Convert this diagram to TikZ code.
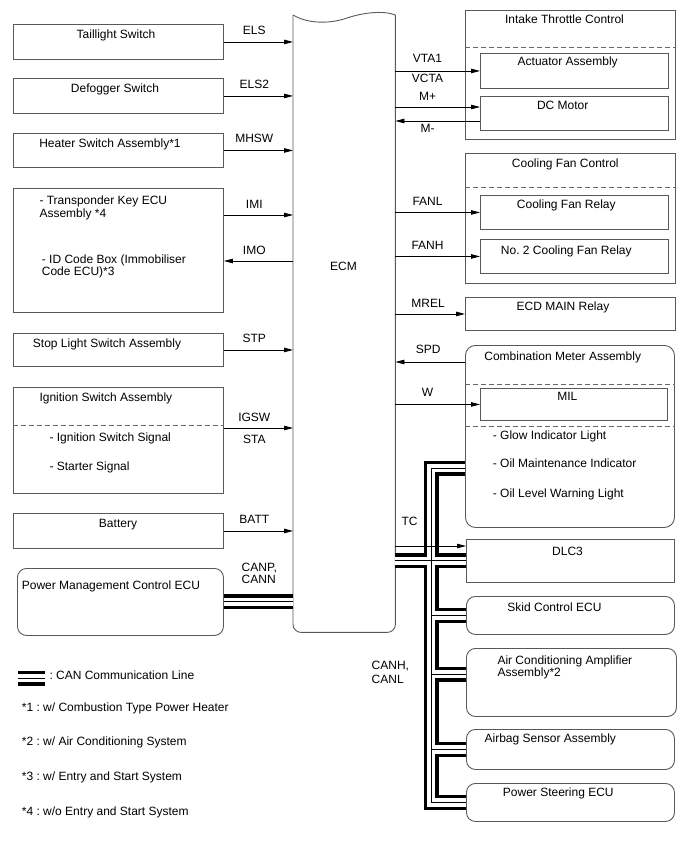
\documentclass[tikz,border=0pt]{standalone}
\usepackage{fontspec}
\setmainfont{Liberation Sans}
\usetikzlibrary{arrows.meta,calc}
\frenchspacing

\begin{document}
\begin{tikzpicture}[x=1pt,y=-1pt,
  font=\fontsize{12}{14}\selectfont,
  box/.style={draw=black!65,line width=.9pt,anchor=north west,inner sep=0,minimum width=210pt},
  sub/.style={box,minimum width=188pt},
  ecu/.style={box,rounded corners=9pt,minimum width=208pt},
  outline/.style={draw=black!65,line width=.9pt},
  sep/.style={draw=black!60,line width=.8pt,dash pattern=on 5pt off 3pt},
  txt/.style={anchor=base,inner sep=0},
  ltxt/.style={anchor=base west,inner sep=0},
  para/.style={anchor=north west,inner sep=0,align=left},
  sig/.style={-{Triangle[length=9pt,width=4.5pt]},line width=.8pt},
  lbl/.style={anchor=base,inner sep=0},
  canA/.style={line width=15pt},
  canB/.style={line width=8.5pt,white},
  canC/.style={line width=1pt}]
\useasboundingbox (0,0) rectangle (688,852);

% ECM body with the torn top edge
\node[inner sep=0,anchor=north west,minimum width=102pt,minimum height=617pt] (ecm) at (293,15) {};
\coordinate (wave) at ($(ecm.north west)+(54,3)$);
\draw[outline,rounded corners=8pt] (ecm.north east) -- (ecm.south east) -- (ecm.south west) -- (ecm.north west);
\draw[outline] (ecm.north west) .. controls +(15,9) and +(-17,6) .. (wave)
  .. controls +(15,-5) and +(-13,-5) .. (ecm.north east);
\node[txt] (ecm-t) at (343.5,270) {ECM};

% simple inputs on the left
\foreach \nm/\ty/\bh/\tx/\title/\sg in {tail/24/35/103/Taillight Switch/ELS,
    defog/78/35/102/Defogger Switch/ELS2,
    heat/133/34/97/Heater Switch Assembly*1/MHSW,
    stop/333/33/94/Stop Light Switch Assembly/STP,
    batt/513/35/105/Battery/BATT}{
  \node[box,minimum height=\bh pt] (\nm) at (13,\ty) {};
  \node[txt] (\nm-t) at ($(\nm.north west)+(\tx,14.5)$) {\title};
  \draw[sig] (\nm.east) -- (\nm.east -| ecm.west) node[lbl,pos=.44,yshift=7.5pt] (\nm-s) {\sg};
}

% immobiliser
\node[box,minimum height=124pt] (trans) at (13,188) {};
\node[para] (trans-a) at (39.3,195.6) {- Transponder Key ECU\\[-1pt]Assembly *4};
\node[para] (trans-b) at (41.7,254.3) {- ID Code Box (Immobiliser\\[-2pt]Code ECU)*3};
\coordinate (imi) at ($(trans.north east)+(0,27)$);
\coordinate (imo) at ($(trans.north east)+(0,73)$);
\draw[sig] (imi) -- (imi -| ecm.west) node[lbl,pos=.44,yshift=6.7pt] (imi-s) {IMI};
\draw[sig] (imo -| ecm.west) -- (imo) node[lbl,pos=.56,yshift=7pt] (imo-s) {IMO};

% ignition switch
\node[box,minimum height=106pt] (ign) at (13,387) {};
\draw[sep] ($(ign.north west)+(0,38)$) -- ($(ign.north east)+(0,38)$);
\node[ltxt] (ign-t) at (39.3,401) {Ignition Switch Assembly};
\node[ltxt] (ign-a) at (49.3,441) {- Ignition Switch Signal};
\node[ltxt] (ign-b) at (49.3,470.7) {- Starter Signal};
\coordinate (igsw) at ($(ign.north east)+(0,41)$);
\draw[sig] (igsw) -- (igsw -| ecm.west) node[lbl,pos=.44,yshift=6.7pt] (igsw-s) {IGSW}
  node[lbl,pos=.44,yshift=-15pt] (sta-s) {STA};

\node[ecu,minimum width=206pt,minimum height=67pt] (pmc) at (17,568) {};
\node[ltxt] (pmc-t) at (21.7,589.3) {Power Management Control ECU};
\node[para,font=\fontsize{12}{12}\selectfont] (canpn) at (241.5,563) {CANP,\\CANN};

% throttle and fan groups
\node[box,minimum height=129pt] (itc) at (465,10) {};
\draw[sep] ($(itc.north west)+(0,37)$) -- ($(itc.north east)+(0,37)$);
\node[txt] (itc-t) at (564.5,23.3) {Intake Throttle Control};
\node[sub,minimum height=35pt] (act) at (480,53) {};
\node[txt] (act-t) at (567.7,65.7) {Actuator Assembly};
\node[sub,minimum height=34pt] (dcm) at (480,96) {};
\node[txt] (dcm-t) at (562.7,109) {DC Motor};
\coordinate (mplus) at ($(dcm.north west)+(0,11)$);
\coordinate (mminus) at ($(dcm.north west)+(0,25)$);
\draw[sig] (ecm.east |- act.west) -- (act.west) node[lbl,pos=.38,yshift=8.8pt] (vta-s) {VTA1}
  node[lbl,pos=.38,yshift=-12pt] (vcta-s) {VCTA};
\draw[sig] (ecm.east |- mplus) -- (mplus) node[lbl,pos=.38,yshift=7pt] (mp-s) {M+};
\draw[sig] (mminus) -- (ecm.east |- mminus) node[lbl,pos=.62,yshift=-11.7pt] (mm-s) {M-};

\node[box,minimum height=130pt] (cfc) at (465,153) {};
\draw[sep] ($(cfc.north west)+(0,34)$) -- ($(cfc.north east)+(0,34)$);
\node[txt] (cfc-t) at (565.3,167.7) {Cooling Fan Control};
\node[sub,minimum height=34pt] (cfr) at (480,195) {};
\node[txt] (cfr-t) at (566.3,208.3) {Cooling Fan Relay};
\node[sub,minimum height=34pt] (cfr2) at (480,239) {};
\node[txt] (cfr2-t) at (566.3,254) {No. 2 Cooling Fan Relay};
\draw[sig] (ecm.east |- cfr.west) -- (cfr.west) node[lbl,pos=.38,yshift=7pt] (fanl-s) {FANL};
\draw[sig] (ecm.east |- cfr2.west) -- (cfr2.west) node[lbl,pos=.38,yshift=7pt] (fanh-s) {FANH};

\node[box,minimum height=33pt] (ecd) at (465,297) {};
\node[txt] (ecd-t) at (563,310) {ECD MAIN Relay};
\draw[sig] (ecm.east |- ecd.west) -- (ecd.west) node[lbl,pos=.47,yshift=6.5pt] (mrel-s) {MREL};

% combination meter
\node[box,rounded corners=10pt,minimum width=209pt,minimum height=182pt] (cmb) at (465,345) {};
\draw[sep] ($(cmb.north west)+(0,39)$) -- ($(cmb.north east)+(0,39)$);
\draw[sep] ($(cmb.north west)+(0,81)$) -- ($(cmb.north east)+(0,81)$);
\node[txt] (cmb-t) at (562.7,360.5) {Combination Meter Assembly};
\node[sub,minimum width=187pt,minimum height=32pt] (mil) at (480,388) {};
\node[txt] (mil-t) at (567.3,400.5) {MIL};
\node[ltxt] (cmb-a) at (492.7,439.3) {- Glow Indicator Light};
\node[ltxt] (cmb-b) at (492.7,467.7) {- Oil Maintenance Indicator};
\node[ltxt] (cmb-c) at (492.7,497.3) {- Oil Level Warning Light};
\coordinate (spd) at ($(cmb.north west)+(0,17)$);
\draw[sig] (spd) -- (ecm.east |- spd) node[lbl,pos=.53,yshift=8.5pt] (spd-s) {SPD};
\draw[sig] (ecm.east |- mil.west) -- (mil.west) node[lbl,pos=.38,yshift=8pt] (w-s) {W};

% CAN nodes on the right
\node[box,minimum width=208pt,minimum height=43pt] (dlc) at (466,539) {};
\node[txt] (dlc-t) at (567.5,555) {DLC3};
\node[ecu,minimum height=38pt] (skid) at (466,596) {};
\node[txt] (skid-t) at (554.5,611.7) {Skid Control ECU};
\node[ecu,minimum width=210pt,minimum height=68pt] (aca) at (466,648) {};
\node[para,font=\fontsize{12}{12.5}\selectfont] (aca-t) at (497.3,655.3) {Air Conditioning Amplifier\\Assembly*2};
\node[ecu,minimum height=40pt] (abg) at (466,729) {};
\node[txt] (abg-t) at (550.3,742.3) {Airbag Sensor Assembly};
\node[ecu,minimum height=38pt] (pst) at (466,783) {};
\node[txt] (pst-t) at (558.3,796.7) {Power Steering ECU};
\node[para] (canhl) at (371.5,661) {CANH,\\CANL};

% CAN bus: thick outer pair, thin core
\coordinate (bus) at (431,468);
\coordinate (acin) at ($(aca.north west)+(0,26)$);
\coordinate (lgA) at (18,678);
\coordinate (lgB) at (45,678);
\foreach \lay in {canA,canB,canC}
  \draw[\lay] (cmb.west |- bus) -- (bus) |- (pst.west)
    (ecm.east |- dlc.west) -- (dlc.west)
    (bus |- skid.west) -- (skid.west)
    (bus |- acin) -- (acin)
    (bus |- abg.west) -- (abg.west)
    (pmc.east) -- (pmc.east -| ecm.west)
    (lgA) -- (lgB);

\coordinate (tc) at ($(dlc.north west)+(0,7)$);
\draw[sig] (ecm.east |- tc) -- (tc) node[lbl,pos=.2,yshift=21pt] (tc-s) {TC};

% legend
\node[ltxt] (lg-t) at (49.3,679.7) {: CAN Communication Line};
\foreach \k/\yy/\note in {1/711/{w/ Combustion Type Power Heater},
    2/745.5/{w/ Air Conditioning System},
    3/780/{w/ Entry and Start System},
    4/815/{w/o Entry and Start System}}
  \node[ltxt] (note\k) at (21.7,\yy) {*\k\ : \note};
\end{tikzpicture}
\end{document}
